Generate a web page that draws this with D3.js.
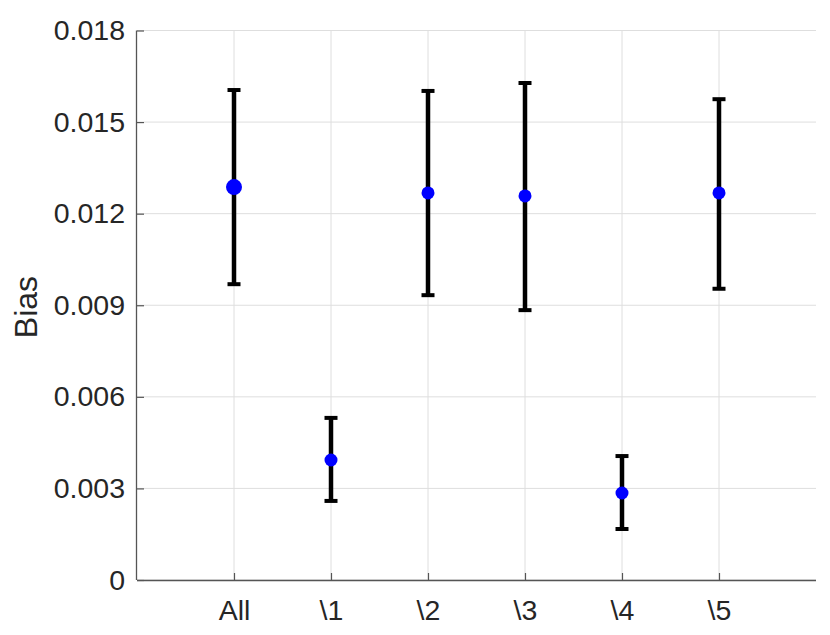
<!DOCTYPE html>
<html><head><meta charset="utf-8">
<script src="https://cdn.jsdelivr.net/npm/d3@7"></script>
<style>body{margin:0;background:#fff}svg{display:block}text{font-family:"Liberation Sans",Arial,sans-serif}</style>
</head><body><svg id="c" width="830" height="635"></svg>
<script>
const categories = ["All","\\1","\\2","\\3","\\4","\\5"];
const means = [0.01287,0.00393,0.01268,0.01258,0.00285,0.01268];
const lower = [0.00969,0.00259,0.00933,0.00884,0.00167,0.00954];
const upper = [0.01605,0.00531,0.01602,0.01628,0.00406,0.01575];
const markerSize = [8,6.5,6.5,6.5,6.5,6.5];
const yTicks = [0,0.003,0.006,0.009,0.012,0.015,0.018];
const yLabel = "Bias";

const svg = d3.select("#c");
const L=137, R=816, T=30.5, B=580;
const x = d3.scaleLinear().domain([0,7]).range([L,R]);
const y = d3.scaleLinear().domain([0,0.018]).range([B,T]);
const idx = categories.map((c,i)=>i+1);

// grid
svg.append("g").selectAll("line").data(yTicks).join("line")
  .attr("x1",L).attr("x2",R).attr("y1",d=>y(d)).attr("y2",d=>y(d))
  .attr("stroke","#dedede").attr("stroke-width",1);
svg.append("g").selectAll("line").data(idx).join("line")
  .attr("x1",d=>x(d)).attr("x2",d=>x(d)).attr("y1",T).attr("y2",B)
  .attr("stroke","#dedede").attr("stroke-width",1);

// axes
const fmt = d=> d===0 ? "0" : d3.format(".3f")(d);
const ya = svg.append("g").attr("transform",`translate(${L},0)`)
  .call(d3.axisLeft(y).tickValues(yTicks).tickFormat(fmt).tickSizeInner(-7).tickSizeOuter(0).tickPadding(12));
const xa = svg.append("g").attr("transform",`translate(0,${B})`)
  .call(d3.axisBottom(x).tickValues(idx).tickFormat((d,i)=>categories[i]).tickSizeInner(-7).tickSizeOuter(0).tickPadding(19.5));
xa.select(".domain").attr("d",`M${L},0.5H${R}`);
ya.select(".domain").attr("d",`M-0.5,${B}V${T}`);
[ya,xa].forEach(a=>{
  a.select(".domain").attr("stroke","#555").attr("stroke-width",1.3);
  a.selectAll(".tick line").attr("stroke","#555").attr("stroke-width",1.2);
  a.selectAll("text").attr("font-size",28.5).attr("fill","#262626");
});

svg.append("text").attr("transform","translate(37,307) rotate(-90)")
  .attr("text-anchor","middle").attr("font-size",32).attr("fill","#262626").text(yLabel);

// error bars
const g = svg.append("g");
const data = categories.map((c,i)=>({i:i+1,m:means[i],lo:lower[i],hi:upper[i],r:markerSize[i]}));
g.selectAll(".eb").data(data).join("line")
  .attr("x1",d=>x(d.i)).attr("x2",d=>x(d.i)).attr("y1",d=>y(d.lo)).attr("y2",d=>y(d.hi))
  .attr("stroke","#000").attr("stroke-width",4.5);
["lo","hi"].forEach(k=>{
  g.selectAll(".cap"+k).data(data).join("line")
    .attr("x1",d=>x(d.i)-6.5).attr("x2",d=>x(d.i)+6.5).attr("y1",d=>y(d[k])).attr("y2",d=>y(d[k]))
    .attr("stroke","#000").attr("stroke-width",4);
});
g.selectAll("circle").data(data).join("circle")
  .attr("cx",d=>x(d.i)).attr("cy",d=>y(d.m)).attr("r",d=>d.r).attr("fill","#0000ff");
</script></body></html>
